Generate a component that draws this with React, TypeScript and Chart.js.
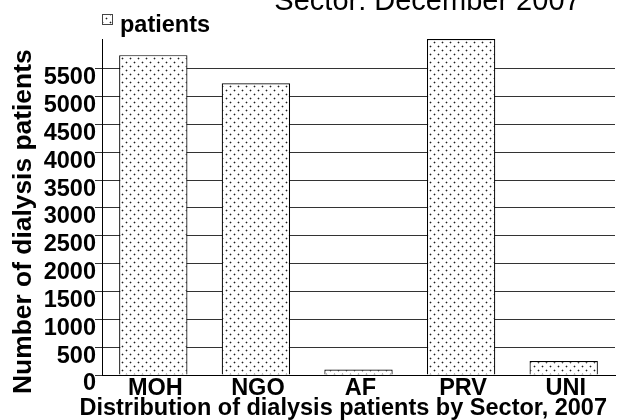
import React, { useEffect, useRef } from 'react';
import { Chart, registerables } from 'chart.js';

Chart.register(...registerables);

const categories = ['MOH', 'NGO', 'AF', 'PRV', 'UNI'];
const patients = [5745, 5240, 100, 6035, 250];
const yTickValues = [0, 500, 1000, 1500, 2000, 2500, 3000, 3500, 4000, 4500, 5000, 5500];
const yMax = 6035;
const seriesLabel = 'patients';
const titleText = 'Sector: December 2007';
const xTitleText = 'Distribution of dialysis patients by Sector, 2007';
const yTitleText = 'Number of dialysis patients';

const FONT = '"Liberation Sans", Arial, Helvetica, sans-serif';

function makeDotPattern(): CanvasPattern | string {
  const c = document.createElement('canvas');
  c.width = 8;
  c.height = 8;
  const g = c.getContext('2d');
  if (!g) return '#ddd';
  g.fillStyle = '#fff';
  g.fillRect(0, 0, 8, 8);
  const dots = [
    [2, 2],
    [6, 6],
  ];
  for (const [x, y] of dots) {
    g.fillStyle = 'rgba(0,0,0,0.28)';
    g.fillRect(x - 1, y, 3, 1);
    g.fillRect(x, y - 1, 1, 3);
    g.fillStyle = '#1e1e1e';
    g.fillRect(x, y, 1, 1);
  }
  const p = g.createPattern(c, 'repeat');
  return p || '#ddd';
}

export default function App() {
  const ref = useRef<HTMLCanvasElement | null>(null);

  useEffect(() => {
    document.body.style.margin = '0';
    const canvas = ref.current;
    if (!canvas) return;
    const pattern = makeDotPattern();

    const decor = {
      id: 'decor',
      afterDraw(chart: any) {
        const ctx = chart.ctx as CanvasRenderingContext2D;
        ctx.save();
        ctx.fillStyle = '#000';
        // title (partially cut off at the top)
        ctx.font = `normal 29px ${FONT}`;
        ctx.textAlign = 'center';
        ctx.textBaseline = 'alphabetic';
        ctx.fillText(titleText, 427.5, 9.5);

        // legend
        ctx.fillStyle = pattern as any;
        ctx.fillRect(102, 14, 11, 11);
        ctx.strokeStyle = '#444';
        ctx.lineWidth = 1;
        ctx.strokeRect(102.5, 14.5, 10, 10);
        ctx.fillStyle = '#000';
        ctx.font = `bold 23.5px ${FONT}`;
        ctx.textAlign = 'left';
        ctx.fillText(seriesLabel, 120, 32);

        // x axis title
        ctx.font = `bold 23.5px ${FONT}`;
        ctx.textAlign = 'right';
        ctx.fillText(xTitleText, 607, 414.5);

        // y axis title
        ctx.font = `bold 26.4px ${FONT}`;
        ctx.translate(31, 394);
        ctx.rotate(-Math.PI / 2);
        ctx.textAlign = 'left';
        ctx.fillText(yTitleText, 0, 0);
        ctx.restore();
      },
    };

    const chart = new Chart(canvas, {
      type: 'bar',
      data: {
        labels: categories,
        datasets: [
          {
            label: seriesLabel,
            data: patients,
            backgroundColor: pattern as any,
            borderColor: '#000',
            borderWidth: 1.2,
            barPercentage: 0.666,
            categoryPercentage: 1,
          },
        ],
      },
      options: {
        responsive: false,
        animation: false,
        devicePixelRatio: 1,
        layout: { padding: { top: 39, right: 4, left: 0, bottom: 0 } },
        plugins: {
          legend: { display: false },
          title: { display: false },
          tooltip: { enabled: false },
        },
        scales: {
          x: {
            grid: { display: false, drawTicks: false },
            border: { display: true, color: '#000', width: 1 },
            ticks: {
              color: '#000',
              font: { family: FONT, size: 23.5, weight: 'bold' },
              padding: -1,
              labelOffset: 2,
              maxRotation: 0,
              autoSkip: false,
            },
            afterFit: (s: any) => {
              s.height = 45;
            },
          },
          y: {
            min: 0,
            max: yMax,
            afterBuildTicks: (s: any) => {
              s.ticks = yTickValues.map((v) => ({ value: v }));
            },
            grid: { color: '#333', lineWidth: 1, tickLength: 7, drawTicks: true },
            border: { display: true, color: '#000', width: 1 },
            ticks: {
              color: '#000',
              font: { family: FONT, size: 23.5, weight: 'bold' },
              padding: -1,
              labelOffset: 9,
              autoSkip: false,
              callback: (v: any) => String(v),
            },
            afterFit: (s: any) => {
              s.width = 102;
            },
          },
        },
      },
      plugins: [decor],
    });

    return () => chart.destroy();
  }, []);

  return (
    <div style={{ width: 619, height: 420 }}>
      <canvas ref={ref} width={619} height={420} style={{ display: 'block' }} />
    </div>
  );
}
